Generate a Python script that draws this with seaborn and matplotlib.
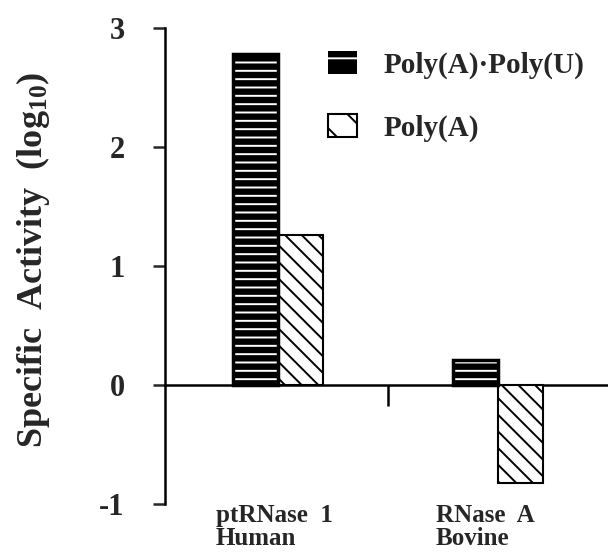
import matplotlib
matplotlib.use('Agg')
import matplotlib.pyplot as plt
import matplotlib.patches as mpatches
import matplotlib.transforms as mtransforms
import pandas as pd
import seaborn as sns

# values (log10 specific activity)
enzymes = ['ptRNase  1\nHuman', 'RNase  A\nBovine']
substrates = ['Poly(A)·Poly(U)', 'Poly(A)']
duplex_activity = [2.78, 0.21]
polya_activity = [1.26, -0.82]
y_ticks = [-1, 0, 1, 2, 3]

df = pd.DataFrame({'enzyme': enzymes * 2,
                   'substrate': [substrates[0]] * 2 + [substrates[1]] * 2,
                   'activity': duplex_activity + polya_activity})

sns.set_style('white')
plt.rcParams['font.family'] = ['Liberation Serif', 'DejaVu Serif']
plt.rcParams['font.weight'] = 'bold'
plt.rcParams['axes.labelweight'] = 'bold'
plt.rcParams['mathtext.fontset'] = 'custom'
plt.rcParams['mathtext.rm'] = 'Liberation Serif:bold'
plt.rcParams['mathtext.it'] = 'Liberation Serif:bold'
plt.rcParams['mathtext.bf'] = 'Liberation Serif:bold'
plt.rcParams['hatch.linewidth'] = 1.4

fig = plt.figure(figsize=(6.15, 5.54), dpi=100)
ax = fig.add_axes([0.268, 0.09, 0.72, 0.86])
sns.barplot(data=df, x='enzyme', y='activity', hue='substrate', hue_order=substrates,
            palette=['black', 'white'], width=0.41, gap=0, saturation=1,
            legend=False, ax=ax)

# hatch the bars: white lines on black, black diagonals on white
duplex_hatch = '--'
single_hatch = '\\\\'
for p in list(ax.patches):
    if p.get_facecolor()[0] < 0.5:
        p.set_edgecolor('white')
        p.set_hatch(duplex_hatch)
        p.set_linewidth(0)
        ax.add_patch(mpatches.Rectangle(p.get_xy(), p.get_width(), p.get_height(),
                                        fill=False, ec='black', lw=2.5))
    else:
        p.set_edgecolor('black')
        p.set_hatch(single_hatch)
        p.set_linewidth(1.5)

ax.axhline(0, color='black', lw=1.8, zorder=0)
ax.vlines(0.5, -0.18, 0, color='black', lw=1.8)

ax.set_ylim(y_ticks[0], y_ticks[-1])
ax.set_xlim(-0.514, 1.5)
ax.set_yticks(y_ticks)
ax.set_yticklabels([str(t) for t in y_ticks], fontsize=22)
ax.tick_params(axis='y', left=True, direction='out', length=9, width=1.8, pad=20)
ax.tick_params(axis='x', bottom=False, length=0, pad=0)
# category labels are left aligned, starting a bit left of the group centre
shift = mtransforms.ScaledTranslation(-0.62, 0, fig.dpi_scale_trans)
for lab in ax.get_xticklabels():
    lab.set_fontsize(18)
    lab.set_horizontalalignment('left')
    lab.set_linespacing(1.0)
    lab.set_transform(lab.get_transform() + shift)

sns.despine(ax=ax, bottom=True)
ax.spines['left'].set_linewidth(1.8)
ax.spines['left'].set_color('black')

ax.set_xlabel('')
ax.set_ylabel('Specific  Activity  (log$_{10}$)', fontsize=26, fontweight='bold')
ax.yaxis.set_label_coords(-0.255, 0.513)

handles = [mpatches.Patch(facecolor='black', edgecolor='white', hatch='-', lw=0),
           mpatches.Patch(facecolor='white', edgecolor='black', hatch='\\', lw=1.5)]
fig.legend(handles, substrates, loc='upper left', bbox_to_anchor=(328 / 615, 1 - 51 / 554),
           frameon=False, fontsize=21, handlelength=1.0, handleheight=0.83,
           handletextpad=0.9, labelspacing=1.2, borderpad=0, borderaxespad=0)

fig.savefig('out.png', dpi=100)
